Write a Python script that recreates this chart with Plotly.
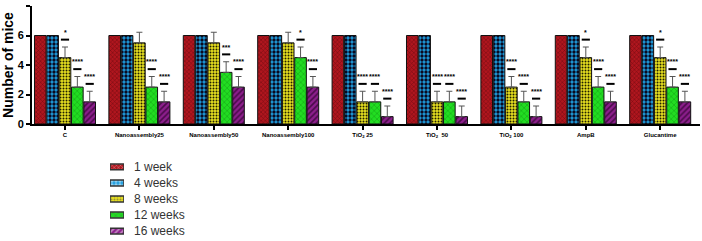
import plotly.graph_objects as go

categories = ["C", "Nanoassembly25", "Nanoassembly50", "Nanoassembly100",
              "TiO<sub>2</sub> 25", "TiO<sub>2</sub>  50", "TiO<sub>2</sub> 100", "AmpB", "Glucantime"]
series_names = ["1 week", "4 weeks", "8 weeks", "12 weeks", "16 weeks"]
y_ticks = [0, 2, 4, 6, 8]
week1 = [6, 6, 6, 6, 6, 6, 6, 6, 6]
week4 = [6, 6, 6, 6, 6, 6, 6, 6, 6]
week8 = [4.5, 5.5, 5.5, 5.5, 1.5, 1.5, 2.5, 4.5, 4.5]
week12 = [2.5, 2.5, 3.5, 4.5, 1.5, 1.5, 1.5, 2.5, 2.5]
week16 = [1.5, 1.5, 2.5, 2.5, 0.5, 0.5, 0.5, 1.5, 1.5]
err1 = [0, 0, 0, 0, 0, 0, 0, 0, 0]
err4 = [0, 0, 0, 0, 0, 0, 0, 0, 0]
err8 = [0.72, 0.72, 0.72, 0.72, 0.72, 0.72, 0.72, 0.72, 0.72]
err12 = [0.72, 0.72, 0.72, 0.72, 0.72, 0.72, 0.72, 0.72, 0.72]
err16 = [0.72, 0.72, 0.72, 0.72, 0.72, 0.72, 0.72, 0.72, 0.72]
sig8 = ["*", "", "", "", "****", "****", "****", "*", "*"]
sig12 = ["****", "****", "***", "*", "****", "****", "****", "****", "****"]
sig16 = ["****", "****", "****", "****", "****", "****", "****", "****", "****"]

values = [week1, week4, week8, week12, week16]
errors = [err1, err4, err8, err12, err16]
sigs = [None, None, sig8, sig12, sig16]

styles = [
    dict(bg="#B0161E", fg="#6E0A10", shape="x", size=3, solidity=0.3),
    dict(bg="#1E9EE0", fg="#0A0A20", shape=".", size=4, solidity=0.55),
    dict(bg="#E8E020", fg="#202000", shape=".", size=3, solidity=0.35),
    dict(bg="#22DD22", fg="#109010", shape="x", size=4, solidity=0.2),
    dict(bg="#8C1E8C", fg="#4A0A4A", shape="/", size=4, solidity=0.4),
]

def marker_for(st, lw, lc):
    return dict(color=st["bg"], line=dict(color=lc, width=lw),
                pattern=dict(shape=st["shape"], bgcolor=st["bg"], fgcolor=st["fg"],
                             size=st["size"], solidity=st["solidity"], fillmode="replace"))

xs = list(range(len(categories)))
fig = go.Figure()
for k, name in enumerate(series_names):
    st = styles[k]
    fig.add_trace(go.Bar(
        x=xs, y=values[k], name=name, showlegend=False,
        marker=marker_for(st, 1, "#111111"),
        error_y=dict(type="data", array=errors[k], arrayminus=[0] * len(xs), symmetric=False,
                     color="#555555", thickness=1, width=3, visible=any(e > 0 for e in errors[k])),
    ))

# legend drawn as small swatch bars on their own axes (one trace, per-point styles)
leg_pos = list(range(len(series_names)))
sw = 0.36
fig.add_trace(go.Bar(
    y=leg_pos, x=[1] * len(series_names), orientation="h", xaxis="x2", yaxis="y2",
    width=sw, offset=-sw / 2, showlegend=False, hoverinfo="skip",
    marker=dict(color=[s["bg"] for s in styles], line=dict(color="#333333", width=1.5),
                pattern=dict(shape=[s["shape"] for s in styles],
                             fgcolor=[s["fg"] for s in styles], size=[s["size"] for s in styles],
                             solidity=[s["solidity"] for s in styles], fillmode="overlay")),
))

bargap = 0.17
groupw = 1 - bargap
nser = len(series_names)
shapes = []
annotations = []
for k in range(nser):
    if sigs[k] is None:
        continue
    for i, lab in enumerate(sigs[k]):
        if not lab:
            continue
        xc = xs[i] + (k - (nser - 1) / 2) * groupw / nser
        top = values[k][i] + errors[k][i]
        shapes.append(dict(type="line", xref="x", yref="y", x0=xc - 0.055, x1=xc + 0.055,
                           y0=top + 0.5, y1=top + 0.5, line=dict(color="black", width=2)))
        annotations.append(dict(x=xc, y=top + 0.62, xref="x", yref="y", text="<b>" + lab + "</b>",
                                showarrow=False, yanchor="bottom", xanchor="center",
                                font=dict(size=7, color="black", family="Liberation Sans")))
for p, name in zip(leg_pos, series_names):
    annotations.append(dict(x=1, y=p, xref="x2", yref="y2", text=name, showarrow=False,
                            xanchor="left", yanchor="middle", xshift=8,
                            font=dict(size=12, color="#333333", family="Liberation Sans")))

fig.update_layout(
    width=702, height=241,
    margin=dict(l=32, r=2, t=6, b=0, autoexpand=False),
    paper_bgcolor="white", plot_bgcolor="white",
    barmode="group", bargap=bargap, bargroupgap=0.06,
    font=dict(family="Liberation Sans", color="black"),
    shapes=shapes, annotations=annotations,
    showlegend=False,
    xaxis=dict(range=[-0.4435, 8.535], tickmode="array", tickvals=xs,
               ticktext=["<b>" + c + "</b>" for c in categories], anchor="y",
               showline=True, linecolor="black", linewidth=1.5, ticks="outside", ticklen=4,
               tickwidth=1.5, tickcolor="black", tickfont=dict(size=6, family="Liberation Sans"),
               showgrid=False, zeroline=False),
    yaxis=dict(domain=[0.4979, 1], range=[0, 8], tickmode="array", tickvals=y_ticks,
               ticktext=["<b>%d</b>" % t for t in y_ticks], showline=True, linecolor="black",
               linewidth=2, ticks="outside", ticklen=4, tickwidth=2, tickcolor="black",
               tickfont=dict(size=11, family="Liberation Sans"), showgrid=False, zeroline=False,
               title=dict(text="<b>Number of mice</b>", font=dict(size=14), standoff=2)),
    xaxis2=dict(domain=[0.1168, 0.1377], range=[0, 1], anchor="y2", visible=False, fixedrange=True),
    yaxis2=dict(domain=[0.0085, 0.349], anchor="x2", visible=False, range=[4.5, -0.5],
                fixedrange=True),
)
fig.write_html("out.html")
